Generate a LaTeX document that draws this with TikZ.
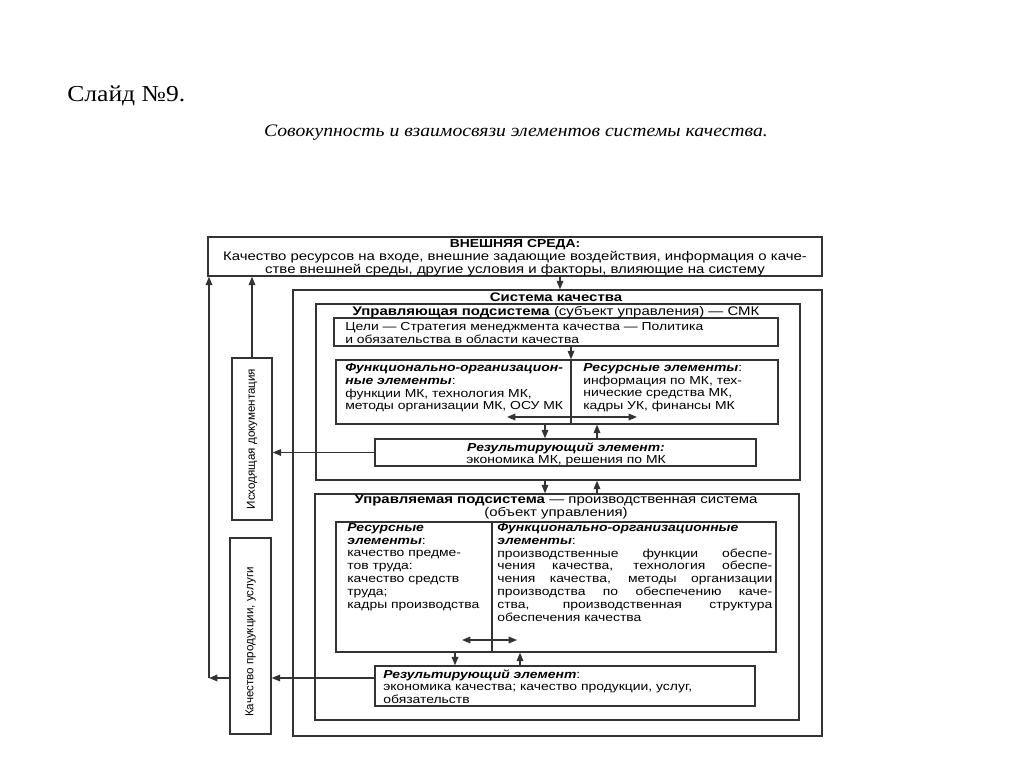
\documentclass[tikz,border=0pt]{standalone}
\usepackage{fontspec}
\usepackage{tikz}
\usetikzlibrary{arrows.meta,fit}
\newfontfamily\slidefont[FakeStretch=1.12]{Liberation Serif}
\newfontfamily\boxfont[FakeStretch=1.2]{Liberation Sans}
\newfontfamily\sidefont{Liberation Sans}
\newcommand\dsize{\fontsize{6.6}{7.3}\selectfont}
\newcommand\headsize{\fontsize{7.1}{7.3}\selectfont}
\newcommand\jl[1]{\makebox[5.5cm][s]{#1}}
\newcommand\bi[1]{\textbf{\textit{#1}}}

\begin{document}
\begin{tikzpicture}[x=0.02cm, y=-0.02cm,
	every node/.style={inner sep=0pt, font=\boxfont\dsize},
	head/.style={font=\boxfont\headsize},
	frame/.style={draw=black!80, line width=0.8pt, inner sep=0pt},
	side/.style={rotate=90, font=\sidefont\dsize},
	>={Triangle[length=4.8pt,width=3.8pt]}]
	\useasboundingbox (0,0) rectangle (1024,767);
	\node[anchor=west, font=\slidefont\fontsize{13}{15}\selectfont] (slide) at (67,96) {Слайд №9.};
	\node[font=\slidefont\itshape\fontsize{10}{12}\selectfont] (caption) at (516,133) {Совокупность и взаимосвязи элементов системы качества.};
	\node[frame, fit={(208,237) (822,276)}] (vs) {};
	\node[frame, fit={(293,290) (822,736)}] (sys) {};
	\node[frame, fit={(316,304) (800,480)}] (upsub) {};
	\node[frame, fit={(334,318) (778,346)}] (goals) {};
	\node[frame, fit={(336,360) (778,424)}] (split1) {};
	\node[frame, fit={(375,439) (756,466)}] (res1) {};
	\node[frame, fit={(315,494) (799,720)}] (lowsub) {};
	\node[frame, fit={(336,522) (776,652)}] (split2) {};
	\node[frame, fit={(375,666) (755,706)}] (res2) {};
	\node[frame, fit={(232,358) (272,520)}] (id) {};
	\node[frame, fit={(230,538) (271,734)}] (kp) {};
	\node[head, align=center, anchor=north] (vsT) at (515,239) {\textbf{\dsize ВНЕШНЯЯ СРЕДА:}\\Качество ресурсов на входе, внешние задающие воздействия, информация о каче-\\стве внешней среды, другие условия и факторы, влияющие на систему};
	\node[head] (sysT) at (556,297) {\textbf{Система качества}};
	\node[head] (upT) at (556,312) {\textbf{Управляющая подсистема} (субъект управления) — СМК};
	\node[align=left, anchor=north west] (goalsT) at (345,322) {Цели — Стратегия менеджмента качества — Политика\\и обязательства в области качества};
	\node[align=left, anchor=north west] (s1L) at (345,363) {\bi{Функционально-организацион-}\\\bi{ные элементы}:\\функции МК, технология МК,\\методы организации МК, ОСУ МК};
	\node[align=left, anchor=north west] (s1R) at (583,363) {\bi{Ресурсные элементы}:\\информация по МК, тех-\\нические средства МК,\\кадры УК, финансы МК};
	\node[align=center, anchor=north] (res1T) at (566,442) {\bi{Результирующий элемент:}\\экономика МК, решения по МК};
	\node[head, align=center, anchor=north] (lowT) at (556,495) {\textbf{Управляемая подсистема} — производственная система\\(объект управления)};
	\node[align=left, anchor=north west] (s2L) at (347,523) {\bi{Ресурсные}\\\bi{элементы}:\\качество предме-\\тов труда:\\качество средств\\труда;\\кадры производства};
	\node[align=left, anchor=north west] (s2R) at (497,523) {\bi{Функционально-организационные}\\\bi{элементы}:\\\jl{производственные функции обеспе-}\\\jl{чения качества, технология обеспе-}\\\jl{чения качества, методы организации}\\\jl{производства по обеспечению каче-}\\\jl{ства, производственная структура}\\обеспечения качества};
	\node[align=left, anchor=north west] (res2T) at (383,669) {\bi{Результирующий элемент}:\\экономика качества; качество продукции, услуг,\\обязательств};
	\node[side] (idT) at (id.center) {Исходящая документация};
	\node[side] (kpT) at ([yshift=-0.12cm]kp.center) {Качество продукции, услуги};
	\coordinate (dv1) at (571,0);
	\coordinate (dv2) at (492,0);
	\coordinate (dn1) at (545,0);
	\coordinate (up1) at (597,0);
	\coordinate (dn2) at (455,0);
	\coordinate (up2) at (520,0);
	\coordinate (inx) at (560,0);
	\coordinate (cor) at (209,678);
	\coordinate (da1) at (507,417);
	\coordinate (db1) at (637,417);
	\coordinate (da2) at (462,640);
	\coordinate (db2) at (517,640);
	\begin{scope}[black!80, line width=0.7pt]
		\draw (split1.north -| dv1) -- (split1.south -| dv1);
		\draw (split2.north -| dv2) -- (split2.south -| dv2);
		\draw[->] (vs.south -| inx) -- (sys.north -| inx);
		\draw[->] (goals.south -| dv1) -- (split1.north -| dv1);
		\foreach \a/\b in {split1/res1, upsub/lowsub} {
			\draw[->] (\a.south -| dn1) -- (\b.north -| dn1);
			\draw[->] (\b.north -| up1) -- (\a.south -| up1);
		}
		\draw[->] (split2.south -| dn2) -- (res2.north -| dn2);
		\draw[->] (res2.north -| up2) -- (split2.south -| up2);
		\draw[<->] (da1) -- (db1);
		\draw[<->] (da2) -- (db2);
		\draw[->] (res1.west) -- (res1.west -| id.east);
		\draw[->] (res2.west |- cor) -- (kp.east |- cor);
		\draw[->] (kp.west |- cor) -- (cor);
		\draw[->] (cor) -- (vs.south -| cor);
		\draw[->] (id.north) -- (vs.south -| id.north);
	\end{scope}
\end{tikzpicture}
\end{document}
